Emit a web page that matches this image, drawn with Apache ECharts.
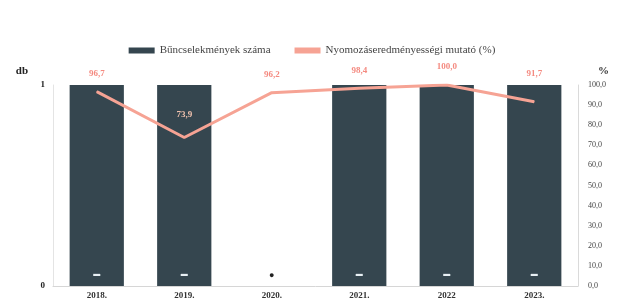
<!DOCTYPE html>
<html>
<head>
<meta charset="utf-8">
<script src="https://cdn.jsdelivr.net/npm/echarts@6/dist/echarts.min.js"></script>
<style>
    html, body { margin: 0; padding: 0; background: #fff; }
    #chart { width: 624px; height: 303px; }
</style>
</head>
<body>
<div id="chart"></div>
<script>
    // évek és értékek
    var years = ['2018.', '2019.', '2020.', '2021.', '2022', '2023.'];
    var crimeCounts = [1, 1, 0, 1, 1, 1];
    var clearanceRate = [96.7, 73.9, 96.2, 98.4, 100.0, 91.7];

    var barColor = '#35464f';
    var lineColor = '#f6a394';

    function comma(v) {
        return v.toFixed(1).replace('.', ',');
    }

    // a 0-s oszlop címkéje sötét pont, a többi fehér jel
    var barData = crimeCounts.map(function (v) {
        return {
            value: v,
            label: v === 0 ? { color: '#222', fontSize: 9, distance: 6 } : {}
        };
    });

    // címkék elhelyezése: a 2019-es a sötét oszlopon belül, a 2023-as feljebb
    var lineData = clearanceRate.map(function (v, i) {
        var lbl = {};
        if (i === 1) lbl = { color: '#f2c2ae', distance: 18 };
        if (i === 5) lbl = { distance: 23 };
        return { value: v, label: lbl };
    });

    var chart = echarts.init(document.getElementById('chart'));
    chart.setOption({
        animation: false,
        textStyle: { fontFamily: 'Liberation Serif, serif' },
        legend: {
            top: 40,
            left: 'center',
            itemWidth: 26,
            itemHeight: 6,
            itemGap: 24,
            textStyle: { color: '#444', fontSize: 11, fontFamily: 'Liberation Serif, serif' },
            data: [
                { name: 'Bűncselekmények száma', icon: 'rect' },
                { name: 'Nyomozáseredményességi mutató (%)', icon: 'rect' }
            ]
        },
        grid: { left: 53, right: 46, top: 85, bottom: 17 },
        xAxis: {
            type: 'category',
            data: years,
            axisLine: { lineStyle: { color: '#d6d6d6' } },
            axisTick: { show: false },
            axisLabel: { color: '#333', fontSize: 9, fontWeight: 'bold', margin: 5 }
        },
        yAxis: [
            {
                type: 'value',
                min: 0,
                max: 1,
                interval: 1,
                name: 'db',
                nameGap: 8,
                nameTextStyle: { color: '#222', fontSize: 11, fontWeight: 'bold', align: 'right', padding: [0, 25, 0, 0] },
                axisLine: { show: true, lineStyle: { color: '#e4e4e4' } },
                axisTick: { show: false },
                splitLine: { show: false },
                axisLabel: { color: '#222', fontSize: 9, fontWeight: 'bold', margin: 8 }
            },
            {
                type: 'value',
                min: 0,
                max: 100,
                interval: 10,
                name: '%',
                nameGap: 8,
                nameTextStyle: { color: '#333', fontSize: 11, fontWeight: 'bold', align: 'left', padding: [0, 0, 0, 20] },
                position: 'right',
                axisLine: { show: true, lineStyle: { color: '#dadada' } },
                axisTick: { show: false },
                splitLine: { show: false },
                axisLabel: {
                    color: '#444', fontSize: 8, margin: 10,
                    formatter: function (v) { return comma(v); }
                }
            }
        ],
        series: [
            {
                name: 'Bűncselekmények száma',
                type: 'bar',
                data: barData,
                barWidth: '62%',
                itemStyle: { color: barColor },
                label: {
                    show: true,
                    position: 'insideBottom',
                    distance: 8,
                    fontSize: 7,
                    color: '#e8f0f4',
                    formatter: function (p) { return p.value === 0 ? '●' : '▬'; }
                },
                z: 1
            },
            {
                name: 'Nyomozáseredményességi mutató (%)',
                type: 'line',
                yAxisIndex: 1,
                data: lineData,
                symbol: 'circle',
                symbolSize: 1,
                showSymbol: true,
                lineStyle: { color: lineColor, width: 3 },
                itemStyle: { color: lineColor },
                label: {
                    show: true,
                    position: 'top',
                    distance: 13,
                    color: '#f48a80',
                    fontSize: 9,
                    fontWeight: 'bold',
                    formatter: function (p) { return comma(p.value); }
                },
                z: 3
            }
        ]
    });
</script>
</body>
</html>
